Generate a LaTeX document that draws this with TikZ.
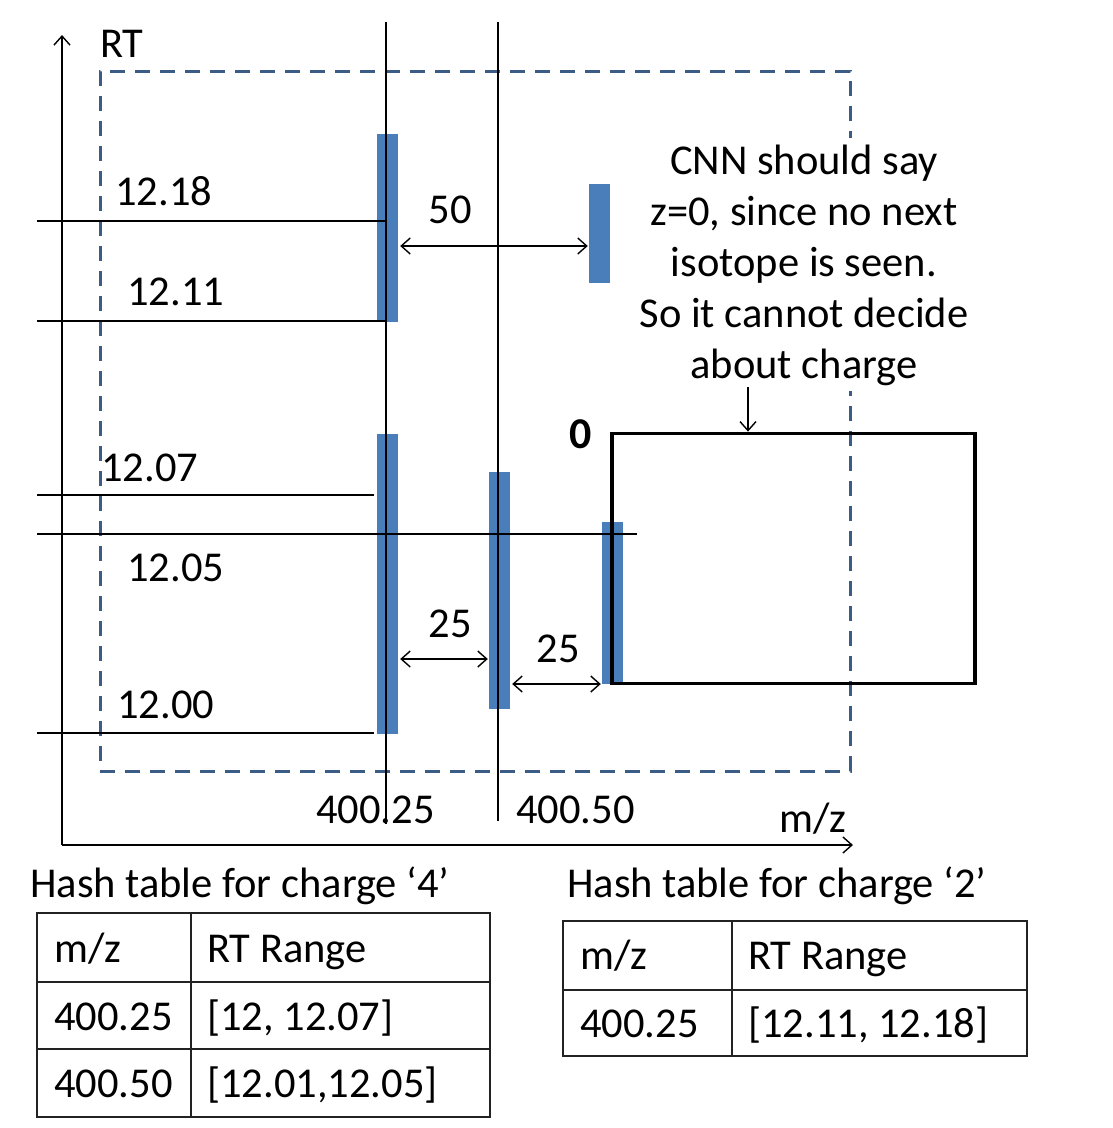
\documentclass[tikz,border=0pt]{standalone}
\usepackage{fontspec}
\setmainfont{Carlito}
\usetikzlibrary{arrows.meta}
\definecolor{barblue}{HTML}{4A7EBB}
\definecolor{dashblue}{HTML}{3B5C85}
\definecolor{tabgray}{HTML}{222222}
\begin{document}
\begin{tikzpicture}[x=1pt,y=-1pt,
  font=\fontsize{42.5}{51}\selectfont,
  bar/.style={fill=barblue, draw=none, inner sep=0pt, minimum width=21pt},
  thin/.style={line width=1.4pt, black},
  lab/.style={anchor=base west, inner sep=0pt},
  clab/.style={anchor=base, inner sep=0pt},
  tip/.style={-{Straight Barb[length=9pt,width=16pt]}},
  dtip/.style={{Straight Barb[length=9pt,width=16pt]}-{Straight Barb[length=9pt,width=16pt]}},
  tabline/.style={line width=2.2pt, tabgray}]
\useasboundingbox (0,0) rectangle (1113,1128);

% dashed region
\node[draw=dashblue, line width=3pt, dash pattern=on 15pt off 10pt, inner sep=0pt,
  minimum width=750pt, minimum height=700pt] (region) at (475,421) {};

% CNN note (anchor base = baseline of last line), white text box
\node[anchor=base, fill=white, inner xsep=4pt, inner ysep=6pt, align=center] (note) at (804,378)
  {CNN should say\\ z=0, since no next\\ isotope is seen.\\ So it cannot decide\\ about charge};

% axes
\coordinate (origin) at (62,845);
\coordinate (ytop) at (62,35);
\coordinate (xend) at (853,845);
\draw[thin, tip] (origin) -- (ytop);
\draw[thin, tip] (origin) -- (xend);
\node[lab] (rtlab) at (100,57) {RT};
\node[lab] (mzlab) at (779,832) {m/z};

% blue bars
\node[bar, minimum height=188pt] (b1) at (387.5,228) {};
\node[bar, minimum height=300pt] (b2) at (387.5,583.5) {};
\node[bar, minimum height=237pt] (b3) at (499.5,590.5) {};
\node[bar, minimum height=162pt] (b4) at (612.5,603) {};
\node[bar, minimum height=99pt] (b5) at (599.5,233.5) {};

% vertical m/z lines
\coordinate (v1t) at (386,22); \coordinate (v1b) at (386,824);
\coordinate (v2t) at (498,22); \coordinate (v2b) at (498,821);
\draw[thin] (v1t) -- (v1b);
\draw[thin] (v2t) -- (v2b);

% horizontal RT lines
\coordinate (h1) at (37,221);  \draw[thin] (h1) -- (h1 -| v1t);
\coordinate (h2) at (37,321);  \draw[thin] (h2) -- (h2 -| v1t);
\coordinate (h3) at (37,495);  \coordinate (h3e) at (374,495); \draw[thin] (h3) -- (h3e);
\coordinate (h4) at (37,534);  \coordinate (h4e) at (637,534); \draw[thin] (h4) -- (h4e);
\coordinate (h5) at (37,733);  \coordinate (h5e) at (374,733); \draw[thin] (h5) -- (h5e);

% RT labels
\node[lab] (t1218) at (115,205) {12.18};
\node[lab] (t1211) at (127,305) {12.11};
\node[lab] (t1207) at (101,481) {12.07};
\node[lab] (t1205) at (127,581) {12.05};
\node[lab] (t1200) at (117,718) {12.00};

% m/z labels
\node[lab] (m1) at (316,823) {400.25};
\node[lab] (m2) at (516,823) {400.50};

% distance arrows
\coordinate (d50) at (0,246);
\coordinate (d25a) at (0,659);
\coordinate (d25b) at (0,684);
\draw[thin, dtip] ([xshift=2pt]b1.east |- d50) -- ([xshift=-1pt]b5.west |- d50);
\draw[thin, dtip] ([xshift=2pt]b2.east |- d25a) -- ([xshift=-1pt]b3.west |- d25a);
\draw[thin, dtip] ([xshift=2pt]b3.east |- d25b) -- ([xshift=-1pt]b4.west |- d25b);
\node[clab] (l50) at (450,223) {50};
\node[clab] (l25a) at (450,637) {25};
\node[clab] (l25b) at (558,662) {25};

% charge 0 box
\node[draw=black, line width=3.8pt, inner sep=0pt, minimum width=363pt, minimum height=250pt] (box) at (793.5,558.5) {};
\node[clab, font=\fontsize{44}{51}\selectfont\bfseries] (zero) at (581,448) {0};

\coordinate (na) at (748,387);
\draw[thin, tip] (na) -- (na |- box.north);

% hash table captions
\node[lab] (cap4) at (30,897) {Hash table for charge ‘4’};
\node[lab] (cap2) at (567,897) {Hash table for charge ‘2’};

% table 1
\coordinate (a1) at (37,913); \coordinate (a2) at (490,1117);
\coordinate (ac) at (191,0);
\draw[tabline] (a1) rectangle (a2);
\draw[tabline] (a1 -| ac) -- (a2 -| ac);
\coordinate (ar1) at (0,982); \coordinate (ar2) at (0,1049);
\draw[tabline] (a1 |- ar1) -- (a2 |- ar1);
\draw[tabline] (a1 |- ar2) -- (a2 |- ar2);
\node[lab] (t1c1) at (54,962) {m/z};
\node[lab] (t1c2) at (207,962) {RT Range};
\node[lab] (t1r1) at (54,1030) {400.25};
\node[lab] (t1r1b) at (207,1030) {[12, 12.07]};
\node[lab] (t1r2) at (54,1097) {400.50};
\node[lab] (t1r2b) at (207,1097) {[12.01,12.05]};

% table 2
\coordinate (c1) at (563,921); \coordinate (c2) at (1027,1056);
\coordinate (cc) at (732,0);
\draw[tabline] (c1) rectangle (c2);
\draw[tabline] (c1 -| cc) -- (c2 -| cc);
\coordinate (cr1) at (0,990);
\draw[tabline] (c1 |- cr1) -- (c2 |- cr1);
\node[lab] (t2c1) at (580,969) {m/z};
\node[lab] (t2c2) at (748,969) {RT Range};
\node[lab] (t2r1) at (580,1037) {400.25};
\node[lab] (t2r1b) at (748,1037) {[12.11, 12.18]};
\end{tikzpicture}
\end{document}
